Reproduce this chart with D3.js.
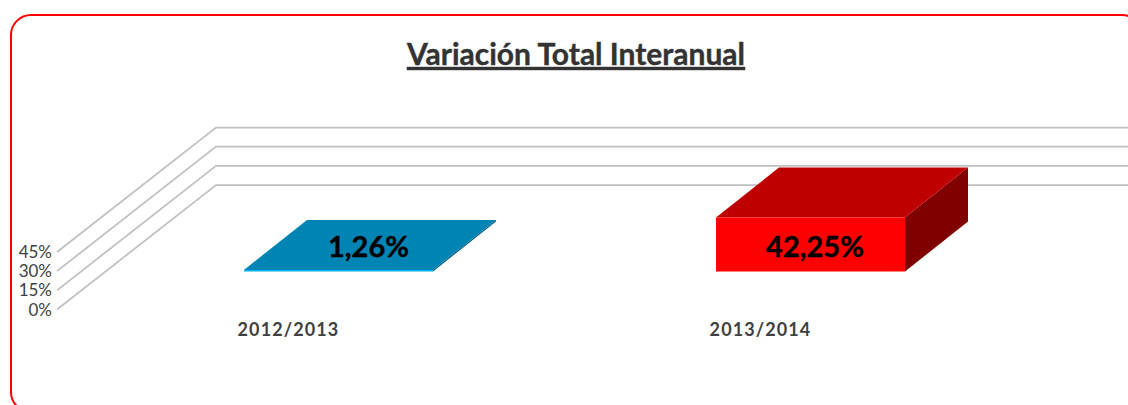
<!DOCTYPE html>
<html>
<head>
<meta charset="utf-8">
<style>
  html, body { margin: 0; padding: 0; background: #fff; overflow: hidden; }
  text { font-family: Lato, "Open Sans", sans-serif; }
</style>
</head>
<body>
<div id="graphic"></div>
<script src="https://d3js.org/d3.v7.min.js"></script>
<script>
var categories = ["2012/2013", "2013/2014"];
var values = [1.26, 42.25];
var valueLabels = ["1,26%", "42,25%"];
var ticks = [0, 15, 30, 45];

var width = 1128, height = 405;

var svg = d3.select("#graphic").append("svg")
    .attr("width", width)
    .attr("height", height);

// frame runs off the right and bottom of the picture
svg.append("rect")
    .attr("x", 11).attr("y", 15)
    .attr("width", 1131).attr("height", 397)
    .attr("rx", 20).attr("ry", 20)
    .attr("fill", "#fff")
    .attr("stroke", "#ff0000")
    .attr("stroke-width", 2);

svg.append("text")
    .attr("x", 576).attr("y", 65)
    .attr("text-anchor", "middle")
    .style("font-size", "30px")
    .style("font-weight", "bold")
    .style("text-decoration", "underline")
    .style("text-decoration-thickness", "3px")
    .style("text-underline-offset", "3px")
    .attr("fill", "#333333")
    .attr("stroke", "#333333")
    .attr("stroke-width", 0.4)
    .text("Variación Total Interanual");

// scales: value height on the front plane, category position on the front plane
var y = d3.scaleLinear().domain([0, 45]).range([309.5, 252]);
var x = d3.scaleBand().domain(categories).range([102.4, 1046.6])
    .paddingInner(0.5996).paddingOuter(0.3);

// 3d projection of the walls
var wallDx = 159, wallDy = -124.5;
var barBase = 271.5, barDx = 63, barDy = -50;

var grid = svg.append("g");
ticks.forEach(function (t) {
    grid.append("polyline")
        .attr("points", [[57, y(t)], [57 + wallDx, y(t) + wallDy], [width, y(t) + wallDy]].join(" "))
        .attr("fill", "none")
        .attr("stroke", "#c0c0c0")
        .attr("stroke-width", 1.75);
    grid.append("text")
        .attr("x", 52).attr("y", y(t) + 6)
        .attr("text-anchor", "end")
        .style("font-size", "17px")
        .attr("fill", "#404040")
        .text(t + "%");
});

var barH = d3.scaleLinear().domain([0, 45]).range([0, 57.5]);
var colors = [
    { front: "#00b0f0", top: "#0084b4", side: "#005878" },
    { front: "#ff0000", top: "#bf0000", side: "#800000" }
];
// labels sit on the top face of the flat bar, on the front face of the tall one
var labelShift = [30, 4.5];

var bars = svg.selectAll(".bar")
    .data(categories)
    .enter().append("g")
    .attr("class", "bar");

function pts(a) { return a.join(" "); }

bars.each(function (c, i) {
    var g = d3.select(this);
    var x0 = x(c), x1 = x0 + x.bandwidth();
    var yb = barBase, yt = barBase - barH(values[i]);
    g.append("polygon")
        .attr("points", pts([[x1, yb], [x1 + barDx, yb + barDy], [x1 + barDx, yt + barDy], [x1, yt]]))
        .attr("fill", colors[i].side);
    g.append("polygon")
        .attr("points", pts([[x0, yt], [x0 + barDx, yt + barDy], [x1 + barDx, yt + barDy], [x1, yt]]))
        .attr("fill", colors[i].top);
    g.append("rect")
        .attr("x", x0).attr("y", yt)
        .attr("width", x.bandwidth()).attr("height", yb - yt)
        .attr("fill", colors[i].front);
    g.append("text")
        .attr("x", (x0 + x1) / 2 + labelShift[i])
        .attr("y", 257)
        .attr("text-anchor", "middle")
        .style("font-size", "29px")
        .style("font-weight", "bold")
        .attr("fill", "#000")
        .attr("stroke", "#000")
        .attr("stroke-width", 0.4)
        .text(valueLabels[i]);
    g.append("text")
        .attr("x", (x0 + x1) / 2 - 50)
        .attr("y", 336)
        .attr("text-anchor", "middle")
        .style("font-size", "18px")
        .style("font-weight", "bold")
        .style("letter-spacing", "1.1px")
        .attr("fill", "#404040")
        .text(c);
});
</script>
</body>
</html>
